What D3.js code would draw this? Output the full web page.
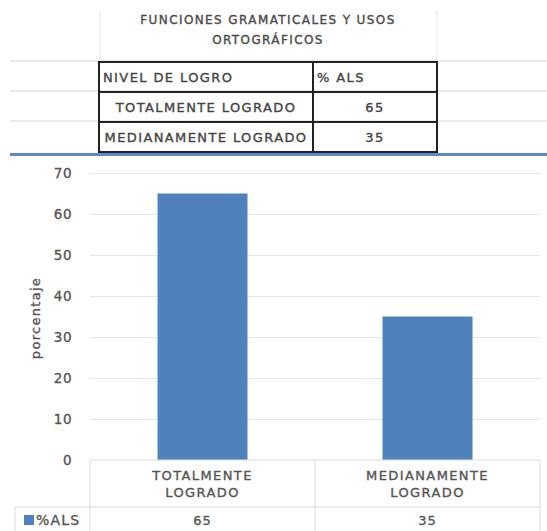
<!DOCTYPE html>
<html>
<head>
<meta charset="utf-8">
<script src="https://cdn.jsdelivr.net/npm/d3@7"></script>
<style>
  body { margin: 0; background: #fff; }
  text { font-family: "DejaVu Sans", sans-serif; stroke-width: 0.35; }
</style>
</head>
<body>
<script>
// data
var categories = ["TOTALMENTE LOGRADO", "MEDIANAMENTE LOGRADO"];
var catLines = [["TOTALMENTE", "LOGRADO"], ["MEDIANAMENTE", "LOGRADO"]];
var values = [65, 35];
var seriesName = "% ALS";
var yTicks = [0, 10, 20, 30, 40, 50, 60, 70];
var titleLines = ["FUNCIONES GRAMATICALES Y USOS", "ORTOGRÁFICOS"];
var tableHeader = ["NIVEL DE LOGRO", "% ALS"];

var width = 547, height = 531;
var textCol = "#555";
var svg = d3.select("body").append("svg")
    .attr("width", width)
    .attr("height", height);

// spreadsheet bits on top
var sheet = svg.append("g");
// faint cell grid
[100, 437].forEach(function(x){
  sheet.append("line").attr("x1", x).attr("x2", x).attr("y1", 10).attr("y2", 61)
    .attr("stroke", "#e3e3e3").attr("stroke-width", 1);
});
[61, 91, 121].forEach(function(y){
  sheet.append("line").attr("x1", 10).attr("x2", width).attr("y1", y).attr("y2", y)
    .attr("stroke", "#dde3ea").attr("stroke-width", 1.5);
});

sheet.selectAll(".title").data(titleLines).enter().append("text")
  .attr("x", 268).attr("y", function(d, i){ return 24 + i * 20; })
  .attr("text-anchor", "middle").attr("font-size", 12).attr("letter-spacing", 1.4)
  .attr("fill", "#4a4a4a").attr("stroke", "#4a4a4a")
  .text(function(d){ return d; });

// the little table
var tx0 = 99, tx1 = 313, tx2 = 437;
var rowY = d3.scaleBand().domain([0, 1, 2]).range([62, 152]);
var rows = [tableHeader].concat(categories.map(function(c, i){ return [c, String(values[i])]; }));

sheet.append("rect").attr("x", tx0).attr("y", 62).attr("width", tx2 - tx0).attr("height", 90)
  .attr("fill", "none").attr("stroke", "#222").attr("stroke-width", 2);
sheet.append("line").attr("x1", tx1).attr("x2", tx1).attr("y1", 62).attr("y2", 152)
  .attr("stroke", "#222").attr("stroke-width", 2);
[1, 2].forEach(function(r){
  sheet.append("line").attr("x1", tx0).attr("x2", tx2).attr("y1", rowY(r)).attr("y2", rowY(r))
    .attr("stroke", "#222").attr("stroke-width", 2);
});
function cellText(x, y, s, anchor){
  sheet.append("text").attr("x", x).attr("y", y).attr("text-anchor", anchor)
    .attr("font-size", 13).attr("letter-spacing", 1.4)
    .attr("fill", "#444").attr("stroke", "#444").text(s);
}
rows.forEach(function(r, i){
  var y = rowY(i) + rowY.bandwidth() / 2 + 5;
  if (i === 0) {
    cellText(tx0 + 4, y, r[0], "start");
    cellText(tx1 + 4, y, r[1], "start");
  } else {
    cellText((tx0 + tx1) / 2, y, r[0], "middle");
    cellText((tx1 + tx2) / 2, y, r[1], "middle");
  }
});

// blue divider
svg.append("rect").attr("x", 10).attr("y", 153).attr("width", width - 10).attr("height", 3)
  .attr("fill", "#5a88cc");

// chart
var plotL = 90, plotR = 540, plotT = 173, plotB = 460;
var x = d3.scaleBand().domain(categories).range([plotL, plotR]).paddingInner(0.6).paddingOuter(0.3);
var xCell = d3.scaleBand().domain(categories).range([plotL, plotR]);
var y = d3.scaleLinear().domain([0, 70]).range([plotB, plotT]);

var chart = svg.append("g");

chart.append("g")
  .attr("transform", "translate(" + plotL + ",0)")
  .call(d3.axisLeft(y).tickValues(yTicks).tickSize(-(plotR - plotL)).tickPadding(18))
  .call(function(g){
    g.select(".domain").remove();
    g.selectAll(".tick line").attr("stroke", function(d){ return d === 0 ? "none" : "#e6e6e6"; });
    g.selectAll(".tick text").attr("fill", textCol).attr("stroke", textCol)
      .attr("font-size", 13.5).attr("letter-spacing", 0.5)
      .attr("font-family", "'DejaVu Sans', sans-serif");
  });

chart.selectAll(".bar").data(values).enter().append("rect")
  .attr("class", "bar")
  .attr("x", function(d, i){ return x(categories[i]); })
  .attr("width", x.bandwidth())
  .attr("y", function(d){ return y(d); })
  .attr("height", function(d){ return y(0) - y(d); })
  .attr("fill", "#4f81bd");

chart.append("text")
  .attr("transform", "translate(40," + 318 + ") rotate(-90)")
  .attr("text-anchor", "middle").attr("font-size", 13).attr("letter-spacing", 1.3)
  .attr("fill", textCol).attr("stroke", textCol)
  .text("porcentaje");

// data table under the chart
var grid = "#d9d9d9";
chart.append("line").attr("x1", plotL).attr("x2", plotR).attr("y1", plotB).attr("y2", plotB)
  .attr("stroke", grid);
chart.append("line").attr("x1", 15).attr("x2", plotR).attr("y1", 507).attr("y2", 507)
  .attr("stroke", grid);
[plotL, xCell(categories[1]), plotR].forEach(function(xx){
  chart.append("line").attr("x1", xx).attr("x2", xx).attr("y1", plotB).attr("y2", height)
    .attr("stroke", grid);
});
chart.append("line").attr("x1", 15).attr("x2", 15).attr("y1", 507).attr("y2", height)
  .attr("stroke", grid);

categories.forEach(function(c, i){
  var cx = xCell(c) + xCell.bandwidth() / 2;
  catLines[i].forEach(function(l, j){
    chart.append("text").attr("x", cx).attr("y", 480 + j * 17).attr("text-anchor", "middle")
      .attr("font-size", 13).attr("letter-spacing", 1.4)
      .attr("fill", textCol).attr("stroke", textCol).text(l);
  });
  chart.append("text").attr("x", cx).attr("y", 525).attr("text-anchor", "middle")
    .attr("font-size", 13).attr("letter-spacing", 1)
    .attr("fill", textCol).attr("stroke", textCol).text(values[i]);
});

// legend key
chart.append("rect").attr("x", 24).attr("y", 515).attr("width", 10).attr("height", 10).attr("fill", "#4f81bd");
chart.append("text").attr("x", 36).attr("y", 525).attr("font-size", 14).attr("letter-spacing", 1.2)
  .attr("fill", textCol).attr("stroke", textCol)
  .text(seriesName.replace(" ", ""));
</script>
</body>
</html>
